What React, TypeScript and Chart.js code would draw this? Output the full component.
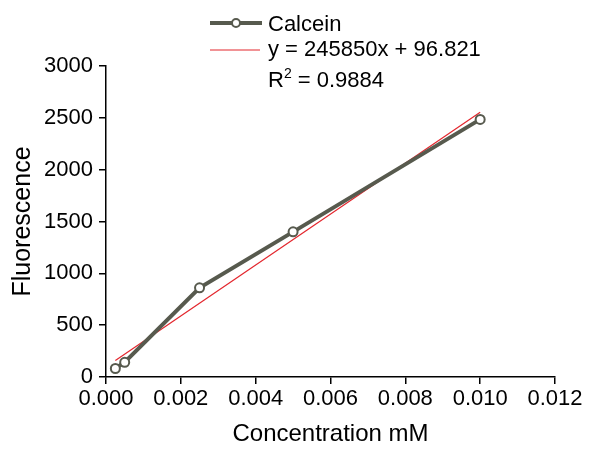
import { useEffect, useRef } from "react";
import { Chart, registerables } from "chart.js";

Chart.register(...registerables);

const concentrations = [0.00025, 0.0005, 0.0025, 0.005, 0.01];
const fluorescence = [82, 142, 860, 1400, 2485];
const trendX = [0.00025, 0.01];
const trendY = [158, 2555];
const seriesName = "Calcein";
const trendLabel = "y = 245850x + 96.821";
const r2Value = "0.9884";
const xTitle = "Concentration mM";
const yTitle = "Fluorescence";

const FONT = "'Liberation Sans', Arial, sans-serif";
const LINE_COLOR = "#575a4e";
const RED = "#e3262d";

const legendPlugin = {
  id: "customLegend",
  afterDraw(chart: any) {
    const ctx = chart.ctx;
    ctx.save();
    // row 1
    ctx.strokeStyle = LINE_COLOR;
    ctx.lineWidth = 4;
    ctx.beginPath();
    ctx.moveTo(210, 23);
    ctx.lineTo(262, 23);
    ctx.stroke();
    ctx.beginPath();
    ctx.arc(236, 23, 4, 0, Math.PI * 2);
    ctx.fillStyle = "#fff";
    ctx.fill();
    ctx.lineWidth = 2;
    ctx.stroke();
    // row 2
    ctx.strokeStyle = RED;
    ctx.lineWidth = 1;
    ctx.beginPath();
    ctx.moveTo(210, 50);
    ctx.lineTo(260, 50);
    ctx.stroke();
    ctx.fillStyle = "#000";
    ctx.font = `22px ${FONT}`;
    ctx.textBaseline = "alphabetic";
    ctx.textAlign = "left";
    ctx.fillText(seriesName, 268, 31);
    ctx.fillText(trendLabel, 268, 56);
    // row 3: R² with real superscript
    let x = 268;
    const base = 87;
    ctx.fillText("R", x, base);
    x += ctx.measureText("R").width;
    ctx.font = `14px ${FONT}`;
    ctx.fillText("2", x, base - 9);
    x += ctx.measureText("2").width;
    ctx.font = `22px ${FONT}`;
    ctx.fillText(" = " + r2Value, x, base);
    ctx.restore();
  },
};

export default function App() {
  const ref = useRef<HTMLCanvasElement>(null);
  useEffect(() => {
    if (!ref.current) return;
    const chart = new Chart(ref.current, {
      type: "line",
      data: {
        datasets: [
          {
            label: seriesName,
            data: concentrations.map((x, i) => ({ x, y: fluorescence[i] })),
            borderColor: LINE_COLOR,
            borderWidth: 4,
            pointRadius: 4.5,
            pointBackgroundColor: "#fff",
            pointBorderColor: LINE_COLOR,
            pointBorderWidth: 2,
            tension: 0,
          },
          {
            label: trendLabel,
            data: trendX.map((x, i) => ({ x, y: trendY[i] })),
            borderColor: RED,
            borderWidth: 1.2,
            pointRadius: 0,
            tension: 0,
          },
        ],
      },
      plugins: [legendPlugin],
      options: {
        animation: false,
        responsive: false,
        layout: { padding: { top: 66, right: 34, left: 8, bottom: 0 } },
        plugins: { legend: { display: false }, tooltip: { enabled: false } },
        scales: {
          x: {
            type: "linear",
            min: 0,
            max: 0.012,
            ticks: {
              stepSize: 0.002,
              color: "#000",
              font: { size: 22, family: FONT },
              padding: 2,
              maxRotation: 0,
              callback: (v: any) => Number(v).toFixed(3),
            },
            grid: { display: true, drawOnChartArea: false, drawTicks: true, tickLength: 7, color: "#000", lineWidth: 1.5 },
            border: { display: true, color: "#000", width: 1.5 },
            title: { display: true, text: xTitle, color: "#000", font: { size: 24, family: FONT }, padding: { top: 4, bottom: 0 } },
            afterFit: (s: any) => { s.height = 72; },
          },
          y: {
            min: 0,
            max: 3000,
            ticks: {
              stepSize: 500,
              color: "#000",
              font: { size: 22, family: FONT },
              padding: 6,
              callback: (v: any) => String(v),
            },
            grid: { display: true, drawOnChartArea: false, drawTicks: true, tickLength: 7, color: "#000", lineWidth: 1.5 },
            border: { display: true, color: "#000", width: 1.5 },
            title: { display: true, text: yTitle, color: "#000", font: { size: 25, family: FONT }, padding: { top: 0, bottom: 4 } },
            afterFit: (s: any) => { s.width = 98; },
          },
        },
      },
    });
    return () => chart.destroy();
  }, []);
  return (
    <div style={{ position: "absolute", left: 0, top: 0, width: 589, height: 449, background: "#fff" }}>
      <canvas ref={ref} width={589} height={449} style={{ width: 589, height: 449 }} />
    </div>
  );
}
